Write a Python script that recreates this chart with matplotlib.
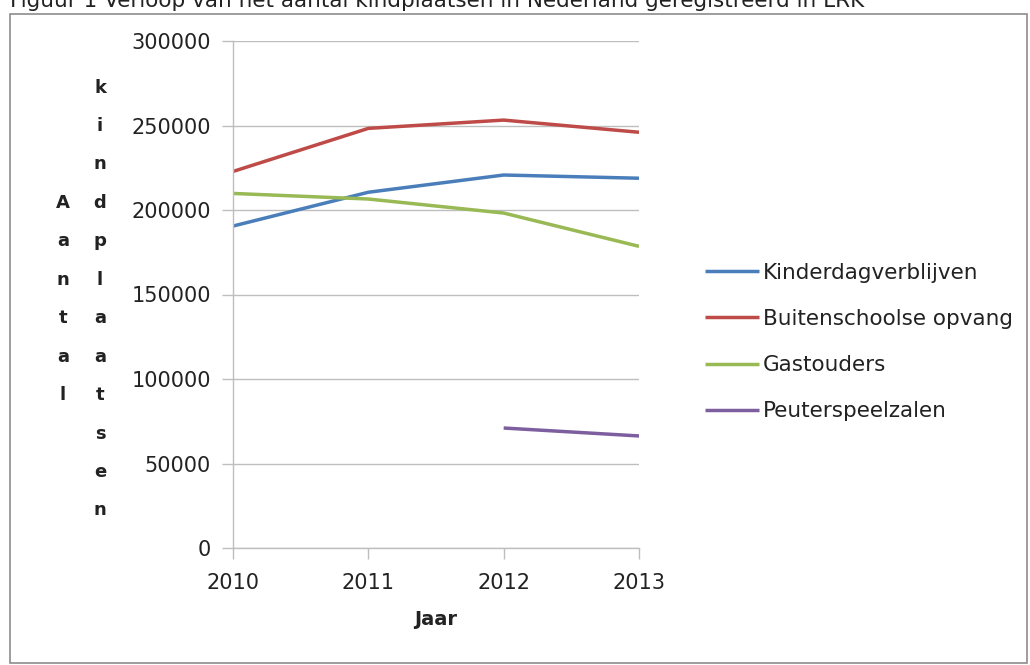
import matplotlib.pyplot as plt
from matplotlib.patches import Rectangle

years = [2010, 2011, 2012, 2013]
kinderdag = [190500, 210500, 220700, 218800]
buitenschools = [222800, 248300, 253200, 246000]
gastouders = [209800, 206500, 198200, 178500]
peuter_years = [2012, 2013]
peuter = [71000, 66300]

series = [
    ("Kinderdagverblijven", years, kinderdag, "#4A7EBB"),
    ("Buitenschoolse opvang", years, buitenschools, "#BE4B48"),
    ("Gastouders", years, gastouders, "#98B954"),
    ("Peuterspeelzalen", peuter_years, peuter, "#7D5FA0"),
]
y_ticks = [0, 50000, 100000, 150000, 200000, 250000, 300000]
title = "Figuur 1 Verloop van het aantal kindplaatsen in Nederland geregistreerd in LRK"

W, H = 1030, 665
fig = plt.figure(figsize=(W / 100, H / 100), dpi=100)
ax = fig.add_axes([233 / W, 1 - 548 / H, (639 - 233) / W, (548 - 41) / H])

for label, xs, ys, color in series:
    ax.plot(xs, ys, color=color, lw=2.5, label=label, solid_capstyle="butt")

grid_c = "#BEBEBE"
ax.set_xlim(2010, 2013)
ax.set_ylim(0, 300000)
ax.set_xticks(years)
ax.set_yticks(y_ticks)
ax.set_yticklabels([str(v) for v in y_ticks])
ax.yaxis.grid(True, color=grid_c, lw=1)
ax.set_axisbelow(True)
for s in ["top", "right"]:
    ax.spines[s].set_visible(False)
for s in ["left", "bottom"]:
    ax.spines[s].set_color(grid_c)
    ax.spines[s].set_linewidth(1)
ax.tick_params(axis="both", colors=grid_c, length=8, width=1, labelcolor="#222222",
               labelsize=15)
ax.tick_params(axis="y", pad=8)
ax.tick_params(axis="x", pad=10)
ax.set_xlabel("Jaar", fontsize=14, fontweight="bold", labelpad=12, color="#222222")

# stacked y label
fig.text(63 / W, 1 - 299 / H, "\n".join("Aantal"), ha="center", va="center",
         fontsize=13, fontweight="bold", linespacing=2.46, color="#222222")
fig.text(100 / W, 1 - 299 / H, "\n".join("kindplaatsen"), ha="center", va="center",
         fontsize=13, fontweight="bold", linespacing=2.46, color="#222222")

leg = ax.legend(loc="center left", bbox_to_anchor=(705 / W, 1 - 342 / H),
                bbox_transform=fig.transFigure, frameon=False, fontsize=15.5,
                handlelength=2.5, handletextpad=0.2, labelspacing=1.22,
                borderaxespad=0, borderpad=0)
for t in leg.get_texts():
    t.set_color("#222222")

# frame and clipped caption
fig.patches.append(Rectangle((10 / W, 2 / H), 1017 / W, 649 / H, transform=fig.transFigure,
                             fill=False, edgecolor="#8C8C8C", lw=1.2))
fig.text(10 / W, 1 - 7 / H, title, ha="left", va="baseline", fontsize=15.5, color="#222222")

fig.savefig("out.png", dpi=100)
